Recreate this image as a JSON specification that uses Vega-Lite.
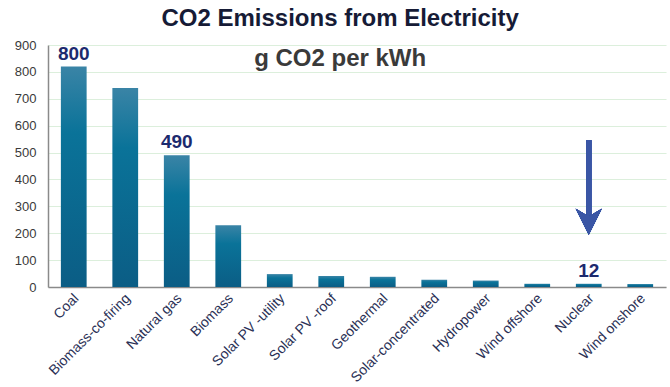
{
  "$schema": "https://vega.github.io/schema/vega-lite/v6.json",
  "width": 618,
  "height": 242,
  "autosize": "none",
  "padding": {"left": 48, "top": 45, "right": 4, "bottom": 100},
  "background": "white",
  "config": {"font": "Liberation Sans", "view": {"stroke": null}},
  "title": {
    "text": "CO2 Emissions from Electricity",
    "subtitle": "g CO2 per kWh",
    "anchor": "middle",
    "frame": "bounds",
    "fontSize": 24,
    "fontWeight": "bold",
    "color": "#161b36",
    "subtitleFontSize": 24,
    "subtitleFontWeight": "bold",
    "subtitleColor": "#3a3a3a",
    "subtitlePadding": 16,
    "offset": -32
  },
  "data": {
    "values": [
      {"source": "Coal", "value": 820, "label": "800"},
      {"source": "Biomass-co-firing", "value": 740, "label": null},
      {"source": "Natural gas", "value": 490, "label": "490"},
      {"source": "Biomass", "value": 230, "label": null},
      {"source": "Solar PV -utility", "value": 48, "label": null},
      {"source": "Solar PV -roof", "value": 41, "label": null},
      {"source": "Geothermal", "value": 38, "label": null},
      {"source": "Solar-concentrated", "value": 27, "label": null},
      {"source": "Hydropower", "value": 24, "label": null},
      {"source": "Wind offshore", "value": 12, "label": null},
      {"source": "Nuclear", "value": 12, "label": "12"},
      {"source": "Wind onshore", "value": 11, "label": null}
    ]
  },
  "encoding": {
    "x": {
      "field": "source",
      "type": "nominal",
      "sort": null,
      "scale": {"paddingInner": 0.5, "paddingOuter": 0.25},
      "axis": {
        "title": null,
        "labelAngle": -45,
        "labelFontSize": 14,
        "labelColor": "#2a3055",
        "ticks": false,
        "domainColor": "#8a8a8a",
        "domainWidth": 1.5,
        "labelPadding": 4,
        "labelOffset": -2,
        "grid": false
      }
    },
    "y": {
      "field": "value",
      "type": "quantitative",
      "scale": {"domain": [0, 900], "nice": false},
      "axis": {
        "title": null,
        "values": [0, 100, 200, 300, 400, 500, 600, 700, 800, 900],
        "labelFontSize": 13,
        "labelColor": "#3a3a3a",
        "ticks": false,
        "labelPadding": 12,
        "domainColor": "#8a8a8a",
        "domainWidth": 1.5,
        "gridColor": "#dcefdc",
        "gridWidth": 1.2
      }
    }
  },
  "layer": [
    {
      "mark": {
        "type": "bar",
        "color": {
          "gradient": "linear",
          "x1": 0, "y1": 0, "x2": 0, "y2": 1,
          "stops": [
            {"offset": 0, "color": "#3a84a6"},
            {"offset": 0.3, "color": "#0a7399"},
            {"offset": 1, "color": "#0b5d85"}
          ]
        }
      }
    },
    {
      "transform": [{"filter": "datum.label != null"}],
      "mark": {"type": "text", "baseline": "bottom", "dy": -3, "fontSize": 19, "fontWeight": "bold", "color": "#1c2a6e"},
      "encoding": {"text": {"field": "label"}}
    },
    {
      "mark": {"type": "rule", "strokeWidth": 5, "color": "#3a56a5"},
      "encoding": {
        "x": {"datum": "Nuclear"},
        "y": {"datum": 546},
        "y2": {"datum": 260}
      }
    },
    {
      "mark": {"type": "point", "shape": "M -1 -1 L 0 -0.4 L 1 -1 L 0 1 Z", "filled": true, "size": 676, "color": "#3a56a5", "opacity": 1},
      "encoding": {
        "x": {"datum": "Nuclear"},
        "y": {"datum": 243}
      }
    }
  ]
}
